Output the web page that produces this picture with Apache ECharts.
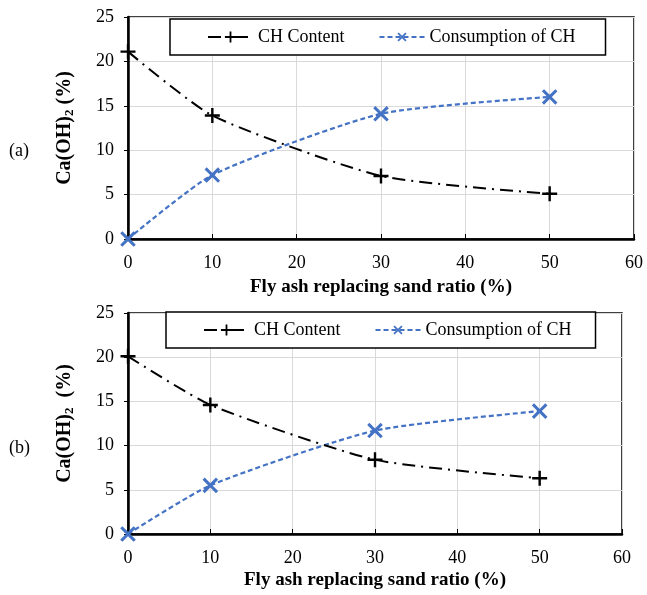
<!DOCTYPE html>
<html>
<head>
<meta charset="utf-8">
<script src="https://cdn.jsdelivr.net/npm/echarts@6/dist/echarts.min.js"></script>
<style>
  html, body { margin: 0; padding: 0; background: #fff; }
  #chart { width: 647px; height: 595px; }
</style>
</head>
<body>
<div id="chart"></div>
<script>
// fly ash replacing sand ratio (%)
const ratios = [0, 10, 30, 50]

// panel (a)
const chContentA = [21.1, 13.9, 7.1, 5.1]
const consumptionA = [0, 7.2, 14.1, 16.0]

// panel (b)
const chContentB = [20.1, 14.6, 8.4, 6.3]
const consumptionB = [0, 5.5, 11.7, 13.9]

const seriesNames = ['CH Content', 'Consumption of CH']
const panelLabels = ['(a)', '(b)']

const font = 'Liberation Serif'
const plusPath = 'path://M4.2,0H5.8V4.2H10V5.8H5.8V10H4.2V5.8H0V4.2H4.2Z'

const toPts = ys => ratios.map((x, i) => [x, ys[i]])

const xAxisOf = (idx, gap) => ({
  type: 'value',
  gridIndex: idx,
  min: 0,
  max: 60,
  interval: 10,
  name: 'Fly ash replacing sand ratio (%)',
  nameLocation: 'middle',
  nameGap: gap,
  nameTextStyle: { fontFamily: font, fontWeight: 'bold', fontSize: 19, color: '#000' },
  axisLine: { lineStyle: { color: '#000', width: 2.5 } },
  axisTick: { show: true, inside: true, length: 5, lineStyle: { color: '#000', width: 1 } },
  axisLabel: { fontFamily: font, fontSize: 18, color: '#000', margin: 15 },
  splitLine: { lineStyle: { color: '#d9d9d9', width: 1 } }
})

const yAxisOf = (idx, space) => ({
  type: 'value',
  gridIndex: idx,
  min: 0,
  max: 25,
  interval: 5,
  name: '{b|Ca(OH)}{s|2}{b|' + space + '(%)}',
  nameLocation: 'middle',
  nameGap: 52,
  nameRotate: 90,
  nameTextStyle: {
    rich: {
      b: { fontFamily: font, fontWeight: 'bold', fontSize: 20, color: '#000' },
      s: { fontFamily: font, fontWeight: 'bold', fontSize: 13, color: '#000', verticalAlign: 'bottom', padding: [10, 0, 0, 0] }
    }
  },
  axisLine: { lineStyle: { color: '#000', width: 2.5 } },
  axisTick: { show: true, length: 4, lineStyle: { color: '#000', width: 1 } },
  axisLabel: { fontFamily: font, fontSize: 18, color: '#000', margin: 14 },
  splitLine: { lineStyle: { color: '#d9d9d9', width: 1 } }
})

const chSeries = (idx, data) => ({
  name: seriesNames[0],
  type: 'line',
  xAxisIndex: idx,
  yAxisIndex: idx,
  data: toPts(data),
  smooth: 0.2,
  symbol: plusPath,
  symbolSize: 15,
  itemStyle: { color: '#000' },
  lineStyle: { color: '#000', width: 2, type: [13, 6, 2, 6] },
  z: 3
})

const consSeries = (idx, data) => ({
  name: seriesNames[1],
  type: 'line',
  xAxisIndex: idx,
  yAxisIndex: idx,
  data: toPts(data),
  smooth: 0.2,
  symbol: plusPath,
  symbolRotate: 45,
  symbolSize: 19,
  itemStyle: { color: '#4472c4' },
  lineStyle: { color: '#4472c4', width: 2.2, type: [5, 3] },
  z: 2
})

const legendOf = (left, top, padRight) => ({
  left,
  top,
  data: seriesNames,
  orient: 'horizontal',
  itemGap: 34,
  itemWidth: 45,
  itemHeight: 14,
  padding: [9, padRight, 9, 37],
  borderColor: '#000',
  borderWidth: 1.5,
  backgroundColor: '#fff',
  textStyle: { fontFamily: font, fontSize: 18, color: '#000' },
  selectedMode: false
})

const chart = echarts.init(document.getElementById('chart'))

chart.setOption({
  animation: false,
  backgroundColor: '#fff',
  grid: [
    { left: 128, top: 17, width: 506, height: 222, show: true, borderColor: '#000', borderWidth: 1.5, backgroundColor: 'transparent' },
    { left: 128, top: 313, width: 494, height: 221, show: true, borderColor: '#000', borderWidth: 1.5, backgroundColor: 'transparent' }
  ],
  xAxis: [xAxisOf(0, 39), xAxisOf(1, 37)],
  yAxis: [yAxisOf(0, ' '), yAxisOf(1, '  ')],
  legend: [legendOf(170, 19, 30), legendOf(166, 312, 24)],
  graphic: [
    { type: 'text', left: 9, top: 142, style: { text: panelLabels[0], font: '18px "Liberation Serif"', fill: '#000' } },
    { type: 'text', left: 9, top: 439, style: { text: panelLabels[1], font: '18px "Liberation Serif"', fill: '#000' } }
  ],
  series: [
    chSeries(0, chContentA),
    consSeries(0, consumptionA),
    chSeries(1, chContentB),
    consSeries(1, consumptionB)
  ]
})
</script>
</body>
</html>
